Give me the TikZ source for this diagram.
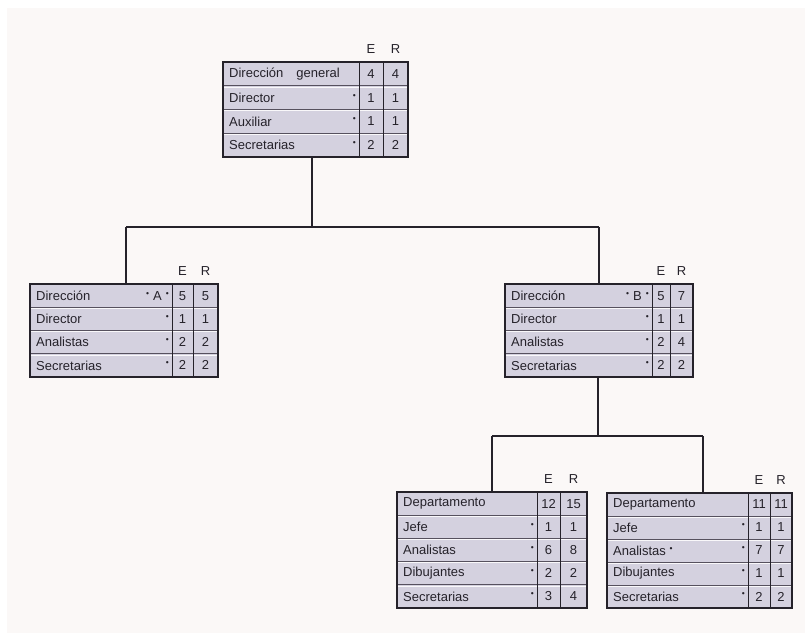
\documentclass[tikz,border=0pt]{standalone}
\usepackage{fontspec}
\setmainfont{Liberation Sans}
\definecolor{paper}{HTML}{FBF8F7}
\definecolor{cellfill}{HTML}{D4D1DF}
\definecolor{ink}{HTML}{25222A}
\definecolor{rule}{HTML}{56515E}
% small raised bullet used beside the row labels
\newcommand\rowdot{\raisebox{3.2pt}{\fontsize{8.5}{8.5}\selectfont\textbullet}}
% one staffing table: #1 name, #2 left, #3 top, #4 first divider, #5 second divider,
% #6 right, #7 row height, #8 number of rows, #9 rows {label}/{mark}/E/R
\newcommand\orgtable[9]{%
  \pgfmathsetmacro\otw{#6-(#2)}%
  \pgfmathsetmacro\oth{#7*#8}%
  \node[tablebox, minimum width=\otw pt, minimum height=\oth pt] (#1) at (#2,#3) {};
  \foreach \lab/\mk/\ve/\vr [count=\i] in {#9} {
    \ifnum\i>1
      \draw[rowrule] ({#2},{#3+(\i-1)*#7}) -- ({#6},{#3+(\i-1)*#7});
      \draw[rowlight] ({#2},{#3+(\i-1)*#7+1.1}) -- ({#6},{#3+(\i-1)*#7+1.1});
    \fi
    \node[celltext, anchor=west] at ({#2+5},{#3+(\i-0.5)*#7}) {\lab};
    \node[celltext, anchor=east, inner sep=0pt] at ({#4-3},{#3+(\i-0.5)*#7}) {\mk};
    \node[celltext] at ({(#4+#5)/2},{#3+(\i-0.5)*#7}) {\ve};
    \node[celltext] at ({(#5+#6)/2},{#3+(\i-0.5)*#7}) {\vr};
  }
  \draw[colrule] ({#4},{#3}) -- ({#4},{#3+#8*#7});
  \draw[colrule] ({#5},{#3}) -- ({#5},{#3+#8*#7});
  \draw[boxline] (#1.north west) rectangle (#1.south east);
  \node[celltext] at ({(#4+#5)/2},{#3-13}) {E};
  \node[celltext] at ({(#5+#6)/2},{#3-13}) {R};
}
\tikzset{
  tablebox/.style={anchor=north west, fill=cellfill, draw=none, outer sep=0pt, inner sep=0pt},
  boxline/.style={draw=ink, line width=1.8pt, line join=miter},
  rowrule/.style={draw=rule, line width=0.9pt},
  rowlight/.style={draw=white!85!cellfill, line width=0.6pt},
  colrule/.style={draw=ink, line width=1pt},
  celltext/.style={font=\fontsize{13}{15}\selectfont, text=ink, inner sep=1pt},
  link/.style={draw=ink, line width=1.1pt}
}
\begin{document}
\begin{tikzpicture}[x=1pt,y=-1pt]
\useasboundingbox (0,0) rectangle (805,633);
\fill[white] (0,0) rectangle (805,633);
\fill[paper] (7,8) rectangle (805,633);

% head office
\orgtable{gen}{223}{62}{359}{383}{408}{23.75}{4}{%
  {Dirección\hspace{13pt}general}/{}/4/4,
  {Director}/{\rowdot}/1/1,
  {Auxiliar}/{\rowdot}/1/1,
  {Secretarias}/{\rowdot}/2/2}

% directorate A
\orgtable{dirA}{30}{284}{172}{193}{218}{23.25}{4}{%
  {Dirección}/{\rowdot\hspace{4pt}A\hspace{4pt}\rowdot\hspace{3pt}}/5/5,
  {Director}/{\rowdot}/1/1,
  {Analistas}/{\rowdot}/2/2,
  {Secretarias}/{\rowdot}/2/2}

% directorate B
\orgtable{dirB}{505}{284}{652}{670}{693}{23.25}{4}{%
  {Dirección}/{\rowdot\hspace{4pt}B\hspace{4pt}\rowdot\hspace{3pt}}/5/7,
  {Director}/{\rowdot}/1/1,
  {Analistas}/{\rowdot}/2/4,
  {Secretarias}/{\rowdot}/2/2}

% departments under B
\orgtable{depC}{397}{492}{537}{560}{587}{23.2}{5}{%
  {Departamento}/{}/12/15,
  {Jefe}/{\rowdot}/1/1,
  {Analistas}/{\rowdot}/6/8,
  {Dibujantes}/{\rowdot}/2/2,
  {Secretarias}/{\rowdot}/3/4}

\orgtable{depD}{607}{493}{748}{770}{792}{23}{5}{%
  {Departamento}/{}/11/11,
  {Jefe}/{\rowdot}/1/1,
  {Analistas\ \rowdot}/{\rowdot}/7/7,
  {Dibujantes}/{\rowdot}/1/1,
  {Secretarias}/{\rowdot}/2/2}

% first level of the tree
\coordinate (j0) at (312,227);
\coordinate (jA) at (126,227);
\coordinate (jB) at (599,227);
\draw[link] (gen.south -| j0) -- (j0);
\draw[link] (jA) -- (jB);
\draw[link] (jA) -- (jA |- dirA.north);
\draw[link] (jB) -- (jB |- dirB.north);

% second level of the tree
\coordinate (k0) at (598,436);
\coordinate (kC) at (492,436);
\coordinate (kD) at (703,436);
\draw[link] (dirB.south -| k0) -- (k0);
\draw[link] (kC) -- (kD);
\draw[link] (kC) -- (kC |- depC.north);
\draw[link] (kD) -- (kD |- depD.north);
\end{tikzpicture}
\end{document}
